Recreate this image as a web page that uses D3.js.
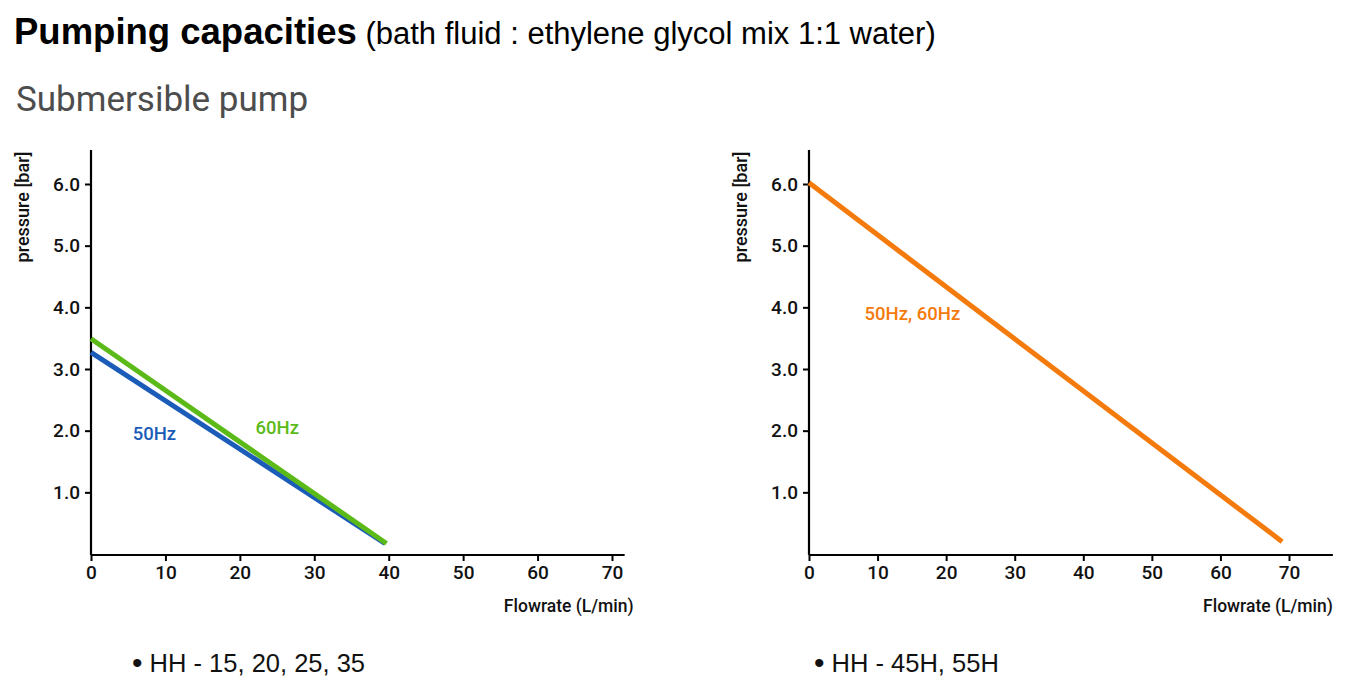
<!DOCTYPE html>
<html><head><meta charset="utf-8">
<script src="https://cdn.jsdelivr.net/npm/d3@7"></script>
<style>body{margin:0;background:#fff;}svg{display:block;}</style>
</head><body>
<script>
const xTicks = [0,10,20,30,40,50,60,70];
const yTicks = [1,2,3,4,5,6];
const flow50 = [0, 39.5];
const pres50 = [3.27, 0.17];
const flow60 = [0, 39.7];
const pres60 = [3.49, 0.17];
const flowBig = [0, 69];
const presBig = [6.02, 0.2];

const W = 1359, H = 700;
const svg = d3.select("body").append("svg").attr("width", W).attr("height", H);
const font = "Roboto, 'Liberation Sans', Arial, sans-serif";
const sans = "'Liberation Sans', Arial, sans-serif";

svg.append("text").attr("x",14).attr("y",44).attr("font-family",sans).attr("fill","#000")
  .call(t=>{ t.append("tspan").attr("font-size",36.5).attr("font-weight","bold").text("Pumping capacities");
             t.append("tspan").attr("font-size",31).text(" (bath fluid : ethylene glycol mix 1:1 water)"); });
svg.append("text").attr("x",16).attr("y",111).attr("font-family",font).attr("font-size",35)
  .attr("fill","#4d4d4d").text("Submersible pump");

function panel(x0, x70, axisEndVal, series, bullet, bulletX, flowPad){
  const x = d3.scaleLinear().domain([0,70]).range([x0, x70]);
  const y = d3.scaleLinear().domain([0,6]).range([554, 184]);
  const g = svg.append("g");
  const xa = g.append("g").attr("transform","translate(0,555)")
    .call(d3.axisBottom(x).tickValues(xTicks).tickSize(6).tickPadding(5).tickFormat(d3.format("d")));
  xa.select(".domain").attr("d", `M${x0},0H${x(axisEndVal)}`);
  const ya = g.append("g").attr("transform",`translate(${x0},0)`)
    .call(d3.axisLeft(y).tickValues(yTicks).tickSize(6).tickPadding(5).tickFormat(d3.format(".1f")));
  ya.select(".domain").attr("d", `M0,${y(6.55)}V555`);
  g.selectAll(".domain").attr("stroke","#000").attr("stroke-width",2.2);
  g.selectAll(".tick line").attr("stroke","#000").attr("stroke-width",2);
  g.selectAll(".tick text").attr("font-family",font).attr("font-size",19).attr("font-weight",500).attr("fill","#111");
  g.append("text").attr("transform",`translate(${x0-62},207) rotate(-90)`).attr("text-anchor","middle")
    .attr("font-family",font).attr("font-size",18).attr("font-weight",500).attr("fill","#111").text("pressure [bar]");
  g.append("text").attr("x", x(axisEndVal)+flowPad).attr("y",612).attr("text-anchor","end")
    .attr("font-family",font).attr("font-size",17.5).attr("font-weight",500).attr("fill","#111").text("Flowrate (L/min)");
  const line = d3.line().x(d=>x(d[0])).y(d=>y(d[1]));
  series.forEach(s=>{
    g.append("path").datum(d3.zip(s.fx, s.py)).attr("d", line).attr("fill","none")
      .attr("stroke", s.color).attr("stroke-width",5).attr("stroke-linecap","butt");
  });
  series.forEach(s=>{
    g.append("text").attr("x", x(s.lx)).attr("y", y(s.ly)).attr("font-family",font).attr("font-size",18.5)
      .attr("font-weight",500).attr("fill", s.color).text(s.label);
  });
  const b = g.append("text").attr("x", bulletX).attr("y",672).attr("font-family",sans).attr("font-size",25.5).attr("fill","#111");
  b.append("tspan").attr("font-size",30).attr("dy",1).text("•");
  b.append("tspan").attr("dy",-1).text(" " + bullet);
}

panel(91, 612, 71.7, [
  {fx:flow50, py:pres50, color:"#1a5cb8", label:"50Hz", lx:5.6, ly:1.85},
  {fx:flow60, py:pres60, color:"#5cba18", label:"60Hz", lx:22.1, ly:1.95}
], "HH - 15, 20, 25, 35", 132, 9);
panel(809, 1289, 76.4, [
  {fx:flowBig, py:presBig, color:"#f57a0c", label:"50Hz, 60Hz", lx:8.1, ly:3.79}
], "HH - 45H, 55H", 814, 0);
</script>
</body></html>
